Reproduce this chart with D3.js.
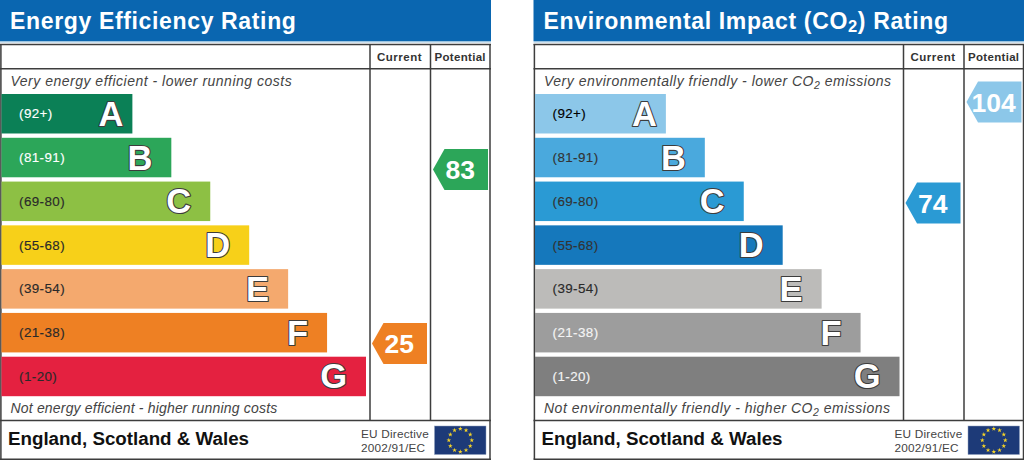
<!DOCTYPE html>
<html><head><meta charset="utf-8">
<script src="https://cdn.jsdelivr.net/npm/d3@7/dist/d3.min.js"></script>
<style>
html,body{margin:0;padding:0;background:#fff;overflow:hidden}
svg{display:block}
text{font-family:"Liberation Sans",Arial,sans-serif}
</style></head><body><svg id="c" width="1024" height="460"></svg>
<script>
// ---- data ----
const bandLetters = ["A","B","C","D","E","F","G"];
const bandRanges = ["(92+)","(81-91)","(69-80)","(55-68)","(39-54)","(21-38)","(1-20)"];
const bandLengths = [3.4,4.4,5.4,6.4,7.4,8.4,9.4];
const energyColors = ["#0b8056","#2ca659","#8dc044","#f7d019","#f4a96e","#ee8023","#e42140"];
const envColors = ["#8cc7e9","#4aa9dd","#2a9ad4","#1578bc","#bcbbb9","#9d9d9d","#7f7f7f"];
const energyLabelColors = ["#fff","#fff","#2a2a2a","#2a2a2a","#2a2a2a","#2a2a2a","#2a2a2a"];
const envLabelColors = ["#000","#333","#333","#333","#2a2a2a","#f4f4f4","#f4f4f4"];
const energyCurrent = 25, energyPotential = 83;
const envCurrent = 74, envPotential = 104;
const footerTitle = "England, Scotland & Wales";
const directiveLines = ["EU Directive","2002/91/EC"];

const svg = d3.select("#c");
const yBand = d3.scaleBand().domain(bandLetters).range([94,396.2]).paddingInner(0.098).paddingOuter(0);
const xLen = d3.scaleLinear().domain([0,9.4]).range([0,366]);

function panel(cfg){
  const g = svg.append("g").attr("transform",`translate(${cfg.x},0)`);
  const W = 490;
  const blue = "#0a66b0";
  g.append("rect").attr("x",0).attr("y",0).attr("width",W+1).attr("height",41).attr("fill",blue);
  g.append("rect").attr("x",0).attr("y",41).attr("width",W+1).attr("height",1.5).attr("fill","#9cc4e0");
  // title
  const t = g.append("text").attr("x",10).attr("y",28.5).attr("fill","#fff")
    .attr("font-weight","bold").attr("font-size",cfg.titleSize).attr("letter-spacing",cfg.titleSpacing);
  cfg.title.forEach(p=>{
    const s=t.append("tspan").text(p.t);
    if(p.sub) s.attr("font-size",cfg.titleSize*0.72).attr("dy",3.5);
    else if(p.after) s.attr("dy",-3.5);
  });
  // frame lines
  const line="#3d3d3d";
  const L=(x1,y1,x2,y2,w)=>g.append("line").attr("x1",x1).attr("y1",y1).attr("x2",x2).attr("y2",y2).attr("stroke",line).attr("stroke-width",w||1.5);
  L(0.9,44,0.9,459);L(490,44,490,459);
  L(0,44.5,491,44.5);L(0,68.8,491,68.8);L(0,420.5,491,420.5);L(0,459.3,491,459.3);
  L(370,44,370,420.5);L(430.5,44,430.5,420.5);
  // column heads
  [["Current",399.5,0.5],["Potential",460.2,0.3]].forEach(d=>{
    g.append("text").attr("x",d[1]).attr("y",61).attr("text-anchor","middle")
      .attr("font-weight","bold").attr("font-size",11.5).attr("letter-spacing",d[2]).attr("fill","#333").text(d[0]);
  });
  // captions
  const cap=(y,parts,sp)=>{
    const c=g.append("text").attr("x",10.5).attr("y",y).attr("font-style","italic").attr("font-size",cfg.capSize).attr("letter-spacing",sp).attr("fill","#444");
    parts.forEach(p=>{const s=c.append("tspan").text(p.t);
      if(p.sub)s.attr("font-size",cfg.capSize*0.75).attr("dy",3); else if(p.after)s.attr("dy",-3);});
  };
  cap(86.3,cfg.capTop,cfg.capTopSpacing);cap(413.2,cfg.capBottom,cfg.capBottomSpacing);
  // bars
  const rows=g.selectAll("g.band").data(bandLetters).join("g").attr("class","band")
    .attr("transform",d=>`translate(1.5,${yBand(d)})`);
  rows.append("rect").attr("width",(d,i)=>xLen(bandLengths[i])-1.5).attr("height",yBand.bandwidth()).attr("fill",(d,i)=>cfg.colors[i]);
  rows.append("text").attr("x",17.5).attr("y",yBand.bandwidth()/2+4.6).attr("font-size",13.4)
    .attr("letter-spacing",0.42).attr("fill",(d,i)=>cfg.labelColors[i]).attr("stroke",(d,i)=>cfg.labelColors[i]).attr("stroke-width",0.15).text((d,i)=>bandRanges[i]);
  rows.append("text").attr("x",(d,i)=>xLen(bandLengths[i])-1.5-(i==0?9:19)).attr("y",yBand.bandwidth()/2+12).attr("text-anchor","end")
    .attr("font-size",34.5).attr("font-weight","bold").attr("fill","#fff").attr("stroke","#3c3c3c").attr("stroke-width",2.2).attr("paint-order","stroke").attr("stroke-linejoin","round")
    .text(d=>d);
  // rating markers
  const yScore=d3.scaleLinear().domain(cfg.scoreDomain).range(cfg.scoreRange);
  const arrow=(left,score,color)=>{
    const cy=yScore(score),h=20.5,w=55,n=11.5;
    const path=d3.path();
    path.moveTo(left,cy);path.lineTo(left+n,cy-h);path.lineTo(left+w,cy-h);path.lineTo(left+w,cy+h);path.lineTo(left+n,cy+h);path.closePath();
    g.append("path").attr("d",path.toString()).attr("fill",color);
    g.append("text").attr("x",left+w/2-0.3).attr("y",cy+9.5).attr("text-anchor","middle").attr("font-weight","bold").attr("font-size",26.5).attr("fill","#fff").text(score);
  };
  arrow(372,cfg.current,cfg.currentColor);
  arrow(433,cfg.potential,cfg.potentialColor);
  // footer
  g.append("text").attr("x",8).attr("y",445.3).attr("font-weight","bold").attr("font-size",18.75).attr("fill","#111").text(footerTitle);
  directiveLines.forEach((s,i)=>g.append("text").attr("x",361).attr("y",437.8+i*14).attr("font-size",11.8).attr("letter-spacing",0.2).attr("fill","#444").text(s));
  g.append("rect").attr("x",434.5).attr("y",426).attr("width",51.5).attr("height",28.5).attr("fill","#1d3a78").attr("stroke","#8fa0bd").attr("stroke-width",0.5);
  const stars=g.append("g").attr("transform","translate(460.3,440.2)");
  d3.range(12).forEach(i=>{
    const a=i/12*2*Math.PI;
    stars.append("path").attr("d",d3.symbol(d3.symbolStar,7)()).attr("transform",`translate(${11.5*Math.sin(a)},${-11.5*Math.cos(a)})`).attr("fill","#f5d327");
  });
}
panel({id:"energy",x:0,title:[{t:"Energy Efficiency Rating"}],titleSize:23,titleSpacing:0.65,
  capSize:14,capTopSpacing:0.5,capBottomSpacing:0.18,
  capTop:[{t:"Very energy efficient - lower running costs"}],capBottom:[{t:"Not energy efficient - higher running costs"}],
  colors:energyColors,labelColors:energyLabelColors,current:energyCurrent,potential:energyPotential,
  currentColor:energyColors[5],potentialColor:energyColors[1],scoreDomain:[25,83],scoreRange:[343.5,169.5]});
panel({id:"env",x:533.5,title:[{t:"Environmental Impact (CO"},{t:"2",sub:true},{t:") Rating",after:true}],titleSize:23,titleSpacing:0.65,
  capSize:14,capTopSpacing:0.5,capBottomSpacing:0.5,
  capTop:[{t:"Very environmentally friendly - lower CO"},{t:"2",sub:true},{t:" emissions",after:true}],
  capBottom:[{t:"Not environmentally friendly - higher CO"},{t:"2",sub:true},{t:" emissions",after:true}],
  colors:envColors,labelColors:envLabelColors,current:envCurrent,potential:envPotential,
  currentColor:envColors[2],potentialColor:envColors[0],scoreDomain:[74,104],scoreRange:[203,102]});
</script></body></html>
